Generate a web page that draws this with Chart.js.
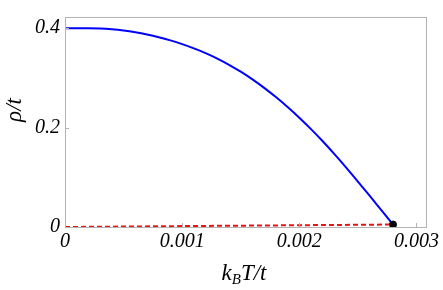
<!DOCTYPE html>
<html>
<head>
<meta charset="utf-8">
<script src="https://cdn.jsdelivr.net/npm/chart.js@4/dist/chart.umd.min.js"></script>
<style>
  html, body { margin: 0; padding: 0; background: #fff; }
  #wrap { width: 443px; height: 290px; }
</style>
</head>
<body>
<div id="wrap"><canvas id="myChart" width="443" height="290"></canvas></div>
<script>
// temperature k_B T / t
const temps = [
  0, 0.0001, 0.0002, 0.0003, 0.0004, 0.0005, 0.0006, 0.0007, 0.0008, 0.0009,
  0.0010, 0.0011, 0.0012, 0.0013, 0.0014, 0.0015, 0.0016, 0.0017, 0.0018, 0.0019,
  0.0020, 0.0021, 0.0022, 0.0023, 0.0024, 0.0025, 0.0026, 0.0027, 0.0028, 0.00282
];
// rho / t, blue curve
const rhoBlue = [
  0.400, 0.400, 0.400, 0.3995, 0.398, 0.3955, 0.392, 0.3875, 0.382, 0.3755,
  0.368, 0.3595, 0.350, 0.339, 0.3265, 0.3125, 0.297, 0.280, 0.2615, 0.2415,
  0.220, 0.197, 0.1725, 0.1465, 0.1195, 0.0915, 0.063, 0.034, 0.005, 0
];
// red dashed line
const redT = [0, 0.0028];
const redRho = [0, 0.005];
// black marker
const dotT = [0.0028];
const dotRho = [0.005];

const xTicks = [0, 0.001, 0.002, 0.003];
const xTickLabels = ['0', '0.001', '0.002', '0.003'];
const yTicks = [0, 0.2, 0.4];
const yTickLabels = ['0', '0.2', '0.4'];

const serif = '"Liberation Serif", "Times New Roman", serif';
const labelFont = { family: serif, style: 'italic', size: 20 };

function toXY(xs, ys) {
  return xs.map((x, i) => ({ x: x, y: ys[i] }));
}

// frame, inward ticks and axis titles (k_B needs a subscript)
const frame = {
  id: 'frame',
  afterDraw(chart) {
    const c = chart.ctx;
    const a = chart.chartArea;
    const sx = chart.scales.x, sy = chart.scales.y;
    c.save();
    c.strokeStyle = '#b4b4b4';
    c.lineWidth = 1;
    c.strokeRect(a.left + 0.5, a.top + 0.5, a.right - a.left - 1, a.bottom - a.top);
    c.beginPath();
    xTicks.slice(1).forEach(v => {
      const px = Math.round(sx.getPixelForValue(v)) + 0.5;
      c.moveTo(px, a.bottom); c.lineTo(px, a.bottom - 4);
    });
    yTicks.slice(1).forEach(v => {
      const py = Math.round(sy.getPixelForValue(v)) + 0.5;
      c.moveTo(a.left, py); c.lineTo(a.left + 4, py);
    });
    c.stroke();

    c.fillStyle = '#000';
    c.textBaseline = 'alphabetic';
    // x title
    const big = 'italic 23px ' + serif;
    const small = 'italic 15px ' + serif;
    c.font = big;
    const wk = c.measureText('k').width;
    const wr = c.measureText('T/t').width;
    c.font = small;
    const wb = c.measureText('B').width;
    let x0 = 244 - (wk + wb + wr) / 2;
    const base = 280;
    c.font = big; c.fillText('k', x0, base); x0 += wk;
    c.font = small; c.fillText('B', x0, base + 4); x0 += wb;
    c.font = big; c.fillText('T/t', x0, base);
    // y title
    c.translate(21, 110);
    c.rotate(-Math.PI / 2);
    c.textAlign = 'center';
    c.font = big;
    c.fillText('\u03c1/t', 0, 0);
    c.restore();
  }
};

const ctx = document.getElementById('myChart').getContext('2d');
const myChart = new Chart(ctx, {
  type: 'scatter',
  data: {
    datasets: [
      {
        label: 'blue',
        data: toXY(temps, rhoBlue),
        showLine: true,
        borderColor: '#0000ff',
        borderWidth: 2,
        pointRadius: 0,
        cubicInterpolationMode: 'monotone',
        order: 2
      },
      {
        label: 'red',
        data: toXY(redT, redRho),
        showLine: true,
        borderColor: '#ee1111',
        borderWidth: 2,
        borderDash: [5, 3],
        pointRadius: 0,
        order: 1
      },
      {
        label: 'dot',
        data: toXY(dotT, dotRho),
        pointRadius: 3.5,
        backgroundColor: '#000',
        borderColor: '#000',
        order: 0
      }
    ]
  },
  options: {
    responsive: false,
    animation: false,
    layout: { padding: { top: 2, right: 16, left: 0, bottom: 0 } },
    plugins: { legend: { display: false }, tooltip: { enabled: false } },
    scales: {
      x: {
        type: 'linear',
        min: 0,
        max: 0.00309,
        afterBuildTicks: s => { s.ticks = xTicks.map(v => ({ value: v })); },
        afterFit: s => { s.height = 63; },
        grid: { display: false, drawTicks: false },
        border: { display: false },
        ticks: {
          font: labelFont,
          color: '#000',
          padding: 3,
          maxRotation: 0,
          callback: (v, i) => xTickLabels[i]
        }
      },
      y: {
        type: 'linear',
        min: 0,
        max: 0.4226,
        afterBuildTicks: s => { s.ticks = yTicks.map(v => ({ value: v })); },
        afterFit: s => { s.width = 65; },
        grid: { display: false, drawTicks: false },
        border: { display: false },
        ticks: {
          font: labelFont,
          color: '#000',
          padding: 5,
          callback: (v, i) => yTickLabels[i]
        }
      }
    }
  },
  plugins: [frame]
});
</script>
</body>
</html>
